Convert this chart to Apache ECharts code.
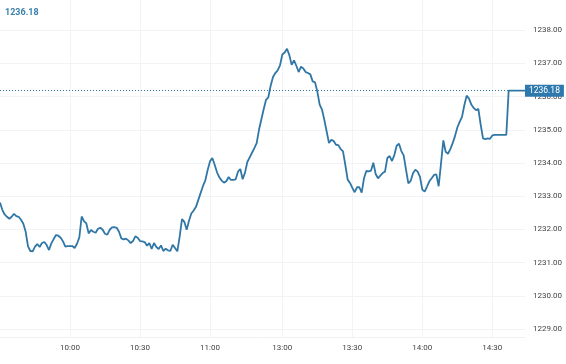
<!DOCTYPE html>
<html>
<head>
<meta charset="utf-8">
<script src="https://cdn.jsdelivr.net/npm/echarts@6/dist/echarts.min.js"></script>
<style>
html,body{margin:0;padding:0;background:#fff;}
#chart{width:566px;height:364px;}
</style>
</head>
<body>
<div id="chart"></div>
<script>
// Trading sessions (1-minute bars)
const sessions = [['09:30', '11:30'], ['13:00', '14:44']];
// Tick labels
const xTickLabels = ['10:00', '10:30', '11:00', '13:00', '13:30', '14:00', '14:30'];
const yTickValues = [1229, 1230, 1231, 1232, 1233, 1234, 1235, 1236, 1237, 1238];
const lastPrice = 1236.18;
// Price per minute
const prices = [
1232.81,1232.59,1232.45,1232.38,1232.32,1232.38,1232.47,1232.40,1232.38,1232.29,
1232.17,1231.93,1231.49,1231.35,1231.34,1231.48,1231.56,1231.47,1231.59,1231.62,
1231.53,1231.38,1231.58,1231.71,1231.83,1231.81,1231.75,1231.64,1231.48,1231.50,
1231.50,1231.50,1231.44,1231.57,1231.76,1232.39,1232.25,1232.18,1231.88,1231.98,
1231.93,1231.90,1232.02,1232.05,1231.99,1231.87,1231.84,1231.99,1232.06,1232.07,
1232.05,1231.93,1231.73,1231.70,1231.72,1231.67,1231.59,1231.65,1231.79,1231.75,
1231.65,1231.64,1231.62,1231.51,1231.59,1231.41,1231.59,1231.47,1231.41,1231.52,
1231.35,1231.42,1231.37,1231.35,1231.54,1231.44,1231.34,1231.78,1232.31,1232.23,
1231.99,1232.26,1232.48,1232.57,1232.68,1232.89,1233.10,1233.31,1233.48,1233.79,
1234.05,1234.15,1233.95,1233.72,1233.57,1233.47,1233.41,1233.45,1233.58,1233.49,
1233.49,1233.51,1233.74,1233.82,1233.51,1233.71,1234.03,1234.17,1234.31,1234.45,
1234.60,1235.00,1235.31,1235.62,1235.90,1235.98,1236.33,1236.59,1236.71,1236.79,
1236.94,1237.27,1237.33,1237.44,1237.25,1236.96,1237.09,1236.93,1236.74,1236.90,
1236.85,1236.74,1236.71,1236.67,1236.46,1236.43,1236.15,1235.76,1235.61,1235.30,
1234.95,1234.60,1234.70,1234.66,1234.55,1234.54,1234.42,1234.35,1233.94,1233.50,
1233.40,1233.25,1233.12,1233.27,1233.27,1233.11,1233.54,1233.76,1233.75,1233.77,
1234.01,1233.67,1233.54,1233.62,1233.70,1233.74,1234.15,1234.21,1234.06,1234.24,
1234.52,1234.58,1234.36,1234.23,1233.80,1233.39,1233.46,1233.69,1233.80,1233.74,
1233.58,1233.20,1233.14,1233.29,1233.45,1233.54,1233.64,1233.66,1233.30,1233.98,
1234.68,1234.34,1234.28,1234.42,1234.60,1234.81,1235.07,1235.24,1235.39,1235.74,
1236.03,1235.94,1235.76,1235.66,1235.59,1235.63,1235.16,1234.74,1234.72,1234.74,
1234.73,1234.83,1234.85,1234.85,1234.85,1234.85,1234.85,1234.85,1236.18,1236.18,
1236.18,1236.18,1236.18,1236.18,1236.18,1236.18
];

function buildMinutes(ranges) {
  const out = [];
  ranges.forEach(([a, b]) => {
    const toM = s => { const p = s.split(':'); return +p[0] * 60 + +p[1]; };
    for (let m = toM(a); m <= toM(b); m++) {
      const h = Math.floor(m / 60), mm = m % 60;
      out.push((h < 10 ? '0' : '') + h + ':' + (mm < 10 ? '0' : '') + mm);
    }
  });
  return out;
}
const times = buildMinutes(sessions);
const shown = (i) => xTickLabels.indexOf(times[i]) >= 0;

const LINE = '#3077a6';
const FONT = 'Roboto, "Noto Sans", sans-serif';
const chart = echarts.init(document.getElementById('chart'), null, {renderer: 'canvas'});
chart.setOption({
  animation: false,
  backgroundColor: '#ffffff',
  title: {
    text: lastPrice.toFixed(2), left: 0, top: 3,
    textStyle: {color: '#3a80ad', fontSize: 9, fontWeight: 'bold', fontFamily: FONT}
  },
  grid: {left: 0, right: 41, top: 0, bottom: 27, containLabel: false},
  xAxis: {
    type: 'category', data: times, boundaryGap: false,
    axisLine: {show: true, lineStyle: {color: '#eef0f4', width: 1}},
    axisTick: {show: false},
    axisLabel: {interval: (i) => shown(i), color: '#444', fontSize: 8, fontFamily: FONT, margin: 7},
    splitLine: {show: true, interval: (i) => shown(i), lineStyle: {color: '#f2f3f6', width: 1}}
  },
  yAxis: {
    type: 'value', position: 'right', min: 1228.76, max: 1238.91, scale: true,
    axisLine: {show: false},
    axisTick: {show: false, customValues: yTickValues},
    axisLabel: {customValues: yTickValues, color: '#444', fontSize: 8, fontFamily: FONT, margin: 8,
      formatter: v => v.toFixed(2)},
    splitLine: {show: true, lineStyle: {color: '#f2f3f6', width: 1}}
  },
  series: [{
    type: 'line', data: prices, showSymbol: false, symbol: 'none',
    lineStyle: {color: LINE, width: 1.8}, z: 3,
    markLine: {
      silent: true, symbol: 'none',
      lineStyle: {color: LINE, type: [1, 2], width: 1},
      label: {show: true, position: 'end', distance: 0, formatter: lastPrice.toFixed(2),
        color: '#fff', backgroundColor: '#2d79ad', padding: [2, 4, 1, 4], fontSize: 8.5, fontFamily: FONT},
      data: [{yAxis: lastPrice}]
    }
  }]
});
</script>
</body>
</html>
